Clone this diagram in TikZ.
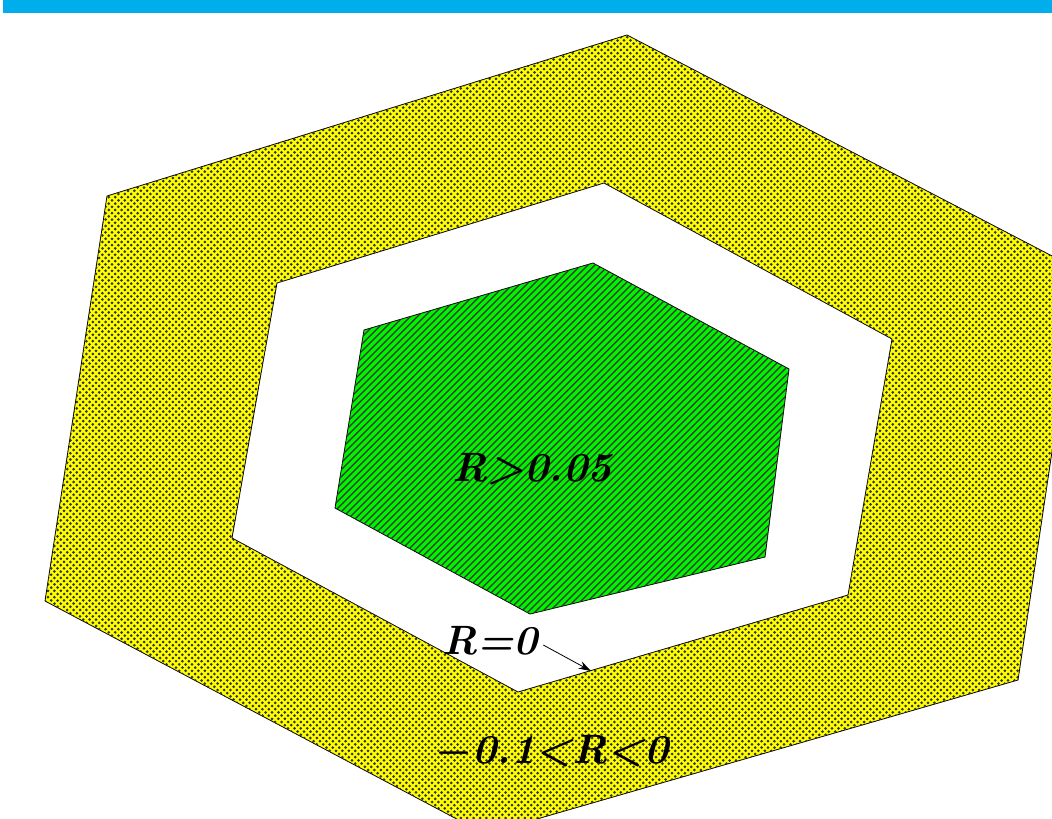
\documentclass[tikz,border=0pt]{standalone}
\usepackage{tikz}
\usetikzlibrary{arrows.meta,positioning,patterns}
\definecolor{barblue}{HTML}{00AEEB}
\definecolor{zoneyellow}{HTML}{FFFF00}
\definecolor{zonegreen}{HTML}{00F400}
% egna mönster
\pgfdeclarepatternformonly{bigdots}{\pgfqpoint{-1pt}{-1pt}}{\pgfqpoint{4pt}{4pt}}{\pgfqpoint{3.2pt}{3.2pt}}{%
  \pgfpathcircle{\pgfqpoint{0pt}{0pt}}{0.75pt}
  \pgfpathcircle{\pgfqpoint{1.6pt}{1.6pt}}{0.75pt}
  \pgfusepath{fill}}
\pgfdeclarepatternformonly{thicklines}{\pgfqpoint{-1pt}{-1pt}}{\pgfqpoint{4.5pt}{4.5pt}}{\pgfqpoint{3.5pt}{3.5pt}}{%
  \pgfsetlinewidth{0.55pt}
  \pgfpathmoveto{\pgfqpoint{0pt}{0pt}}
  \pgfpathlineto{\pgfqpoint{3.6pt}{3.6pt}}
  \pgfusepath{stroke}}
\tikzset{
  >={Stealth[length=2.2mm,width=1.4mm]},
  % zoner
  negzone/.style={draw=black,line width=0.4pt,fill=zoneyellow,
                  postaction={pattern=bigdots,pattern color=black!80},
                  even odd rule},
  poszone/.style={draw=black,line width=0.4pt,fill=zonegreen,
                  postaction={pattern=thicklines,pattern color=black!80}},
  zl/.style={font=\fontsize{20.5}{25}\selectfont\bfseries\itshape\boldmath,inner sep=1pt},
  pointer/.style={->,draw=black,line width=0.4pt},
}
\begin{document}
\begin{tikzpicture}[x=0.5pt,y=-0.5pt]
\useasboundingbox (0,0) rectangle (1052,818);
\clip (0,0) rectangle (1052,818);
  \fill[barblue] (3,0) rectangle (1052,13);
  % ring with -0.1<R<0
  \path[negzone] (627,35) -- (1079,270) -- (1018,680) -- (485,834)
    -- (45,601) -- (107,196) -- cycle
    (604,183) -- (892,339) -- (848,595) -- (518,692)
    -- (232,538) -- (277,283) -- cycle;
  % core with R>0.05
  \path[poszone] (593,263) -- (789,369) -- (765,557) -- (530,614)
    -- (335,508) -- (364,330) -- cycle;
  \node[zl] (pos) at (532,469) {R>0.05};
  \node[zl] (zero) at (490,641) {R=0};
  \node[zl] (neg) at (552,752) {$-$0.1<R<0};
  \coordinate (edge) at (591,671);
  \draw[pointer] (zero.east) ++(3,4) -- (edge);
\end{tikzpicture}
\end{document}
